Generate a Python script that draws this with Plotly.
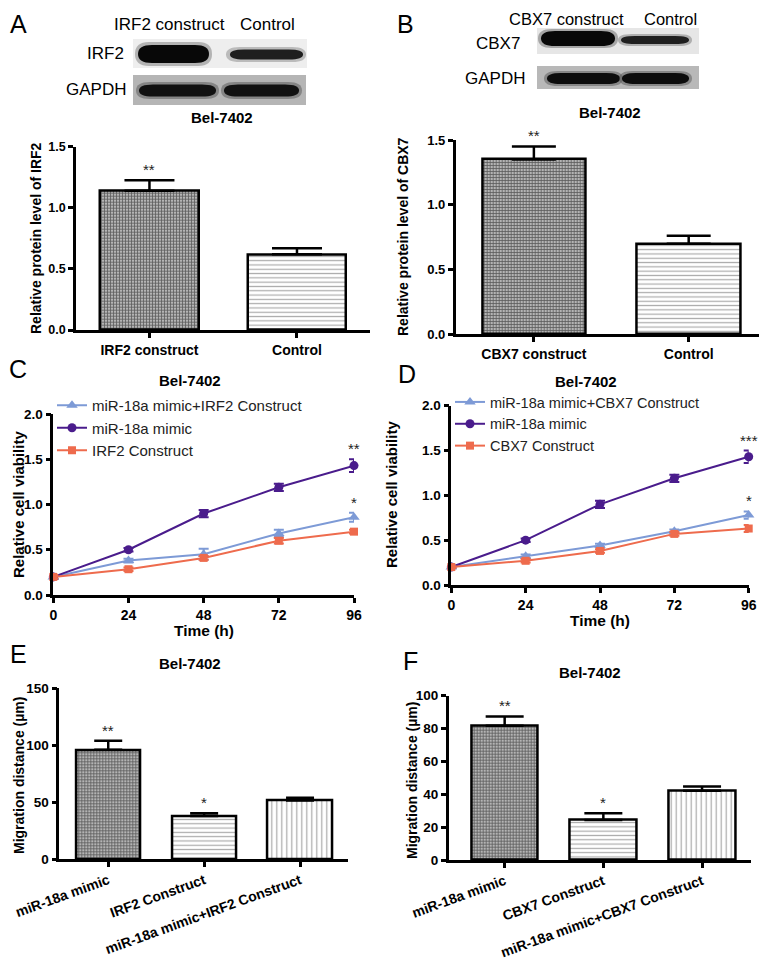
import plotly.graph_objects as go

REF_W, REF_H = 767, 961
OFF = 8                      # the page body adds an 8 px margin
W, H = REF_W - OFF, REF_H - OFF
FONT = "Liberation Sans, Arial, sans-serif"

# ---------------- data ----------------
a_cats = ["IRF2 construct", "Control"]
a_vals = [1.14, 0.62]
a_err = [0.085, 0.05]
a_sig = ["**", ""]

b_cats = ["CBX7 construct", "Control"]
b_vals = [1.35, 0.70]
b_err = [0.10, 0.06]
b_sig = ["**", ""]

time_h = [0, 24, 48, 72, 96]

c_names = ["miR-18a mimic+IRF2 Construct", "miR-18a mimic", "IRF2 Construct"]
c_combo = [0.20, 0.38, 0.45, 0.68, 0.86]
c_combo_err = [0.02, 0.02, 0.06, 0.04, 0.05]
c_mimic = [0.20, 0.50, 0.90, 1.19, 1.43]
c_mimic_err = [0.02, 0.02, 0.04, 0.04, 0.07]
c_construct = [0.20, 0.285, 0.41, 0.60, 0.70]
c_construct_err = [0.02, 0.02, 0.02, 0.03, 0.02]
c_sig_mimic = "**"
c_sig_combo = "*"

d_names = ["miR-18a mimic+CBX7 Construct", "miR-18a mimic", "CBX7 Construct"]
d_combo = [0.20, 0.32, 0.44, 0.60, 0.78]
d_combo_err = [0.01, 0.02, 0.02, 0.02, 0.04]
d_mimic = [0.20, 0.50, 0.90, 1.19, 1.43]
d_mimic_err = [0.01, 0.02, 0.04, 0.04, 0.07]
d_construct = [0.20, 0.27, 0.38, 0.57, 0.63]
d_construct_err = [0.01, 0.02, 0.02, 0.02, 0.04]
d_sig_mimic = "***"
d_sig_combo = "*"

e_cats = ["miR-18a mimic", "IRF2 Construct", "miR-18a mimic+IRF2 Construct"]
e_vals = [96, 38, 51.5]
e_err = [8, 2.3, 2.6]
e_sig = ["**", "*", ""]

f_cats = ["miR-18a mimic", "CBX7 Construct", "miR-18a mimic+CBX7 Construct"]
f_vals = [81.7, 24.4, 42.1]
f_err = [5.7, 4.1, 2.6]
f_sig = ["**", "*", ""]

BLUE = "#7d9ad6"
PURPLE = "#4a1c8c"
ORANGE = "#ee6b4d"


# ---------------- helpers (reference-pixel -> paper) ----------------
def px(x):
    return (x - OFF) / W


def py(y):
    return 1 - (y - OFF) / H


def dx(x0, x1):
    return [px(x0), px(x1)]


def dy(ytop, ybot):
    return [py(ybot), py(ytop)]


fig = go.Figure()

pat_check = dict(shape="+", size=3, solidity=0.45, fgcolor="#000000", bgcolor="#b4b4b4")
pat_h = dict(shape="-", size=4.3, solidity=0.28, fgcolor="#555555", bgcolor="#ffffff")
pat_v = dict(shape="|", size=5, solidity=0.25, fgcolor="#555555", bgcolor="#ffffff")


def add_bars(cats, vals, errs, pats, xa, ya, width, capw):
    for c, v, e, p in zip(cats, vals, errs, pats):
        fig.add_trace(go.Bar(
            x=[c], y=[v], width=[width], xaxis=xa, yaxis=ya, showlegend=False,
            marker=dict(color="white", pattern=p, line=dict(color="black", width=2.5)),
            error_y=dict(type="data", symmetric=False, array=[e], arrayminus=[0],
                         color="black", thickness=2.5, width=capw),
        ))


add_bars(a_cats, a_vals, a_err, [pat_check, pat_h], "x", "y", 0.67, 25)
add_bars(b_cats, b_vals, b_err, [pat_check, pat_h], "x2", "y2", 0.667, 22)
add_bars(e_cats, e_vals, e_err, [pat_check, pat_h, pat_v], "x5", "y5", 0.674, 14)
add_bars(f_cats, f_vals, f_err, [pat_check, pat_h, pat_v], "x6", "y6", 0.676, 19)


def add_lines(names, series, errs, xa, ya, legend):
    specs = [(BLUE, "triangle-up", 10), (PURPLE, "circle", 9), (ORANGE, "square", 8)]
    for name, s, e, (col, sym, sz) in zip(names, series, errs, specs):
        fig.add_trace(go.Scatter(
            x=time_h, y=s, name=name, mode="lines+markers", xaxis=xa, yaxis=ya, legend=legend,
            line=dict(color=col, width=2), marker=dict(color=col, symbol=sym, size=sz),
            error_y=dict(type="data", array=e, color=col, thickness=2, width=5),
            cliponaxis=False,
        ))


add_lines(c_names, [c_combo, c_mimic, c_construct], [c_combo_err, c_mimic_err, c_construct_err],
          "x3", "y3", "legend")
add_lines(d_names, [d_combo, d_mimic, d_construct], [d_combo_err, d_mimic_err, d_construct_err],
          "x4", "y4", "legend2")


# ---------------- axes ----------------
def ax(size, **kw):
    d = dict(showline=True, linecolor="black", linewidth=2.5, ticks="outside", ticklen=5,
             tickwidth=2.5, tickcolor="black", showgrid=False, zeroline=False, automargin=False,
             tickfont=dict(family=FONT, size=size, color="black", weight="bold"))
    d.update(kw)
    return d


fig.update_layout(
    xaxis=ax(14, domain=dx(76, 370), anchor="y", type="category", range=[-0.498, 1.495]),
    yaxis=ax(12.5, domain=dy(146.7, 330), anchor="x", range=[0, 1.5], dtick=0.5, tickformat=".1f"),
    xaxis2=ax(14, domain=dx(455.7, 763), anchor="y2", type="category", range=[-0.505, 1.48]),
    yaxis2=ax(13, domain=dy(140, 334.3), anchor="x2", range=[0, 1.5], dtick=0.5, tickformat=".1f"),
    xaxis3=ax(14, domain=dx(53.3, 354), anchor="y3", range=[0, 96], tickvals=time_h),
    yaxis3=ax(13.5, domain=dy(414, 595), anchor="x3", range=[0, 2], dtick=0.5, tickformat=".1f"),
    xaxis4=ax(14, domain=dx(451.3, 748.7), anchor="y4", range=[0, 96], tickvals=time_h),
    yaxis4=ax(13.5, domain=dy(405.7, 585), anchor="x4", range=[0, 2], dtick=0.5, tickformat=".1f"),
    xaxis5=ax(14, domain=dx(59.3, 348), anchor="y5", type="category", range=[-0.51, 2.5],
              tickangle=-20),
    yaxis5=ax(13.5, domain=dy(688.3, 859.3), anchor="x5", range=[0, 150], dtick=50),
    xaxis6=ax(14, domain=dx(448.7, 751), anchor="y6", type="category", range=[-0.567, 2.496],
              tickangle=-20),
    yaxis6=ax(13.5, domain=dy(695.7, 860), anchor="x6", range=[0, 100], dtick=20),
)

fig.update_layout(
    width=W, height=H, margin=dict(l=0, r=0, t=0, b=0, pad=0, autoexpand=False),
    paper_bgcolor="white", plot_bgcolor="white", bargap=0,
    font=dict(family=FONT, color="black"),
    legend=dict(x=px(52), y=py(389), xanchor="left", yanchor="top", bgcolor="rgba(0,0,0,0)",
                font=dict(family=FONT, size=15, color="#222"), tracegroupgap=0),
    legend2=dict(x=px(450), y=py(386), xanchor="left", yanchor="top", bgcolor="rgba(0,0,0,0)",
                 font=dict(family=FONT, size=14.5, color="#222"), tracegroupgap=0),
)

ann = []


def text(x, y, s, size=13, bold=True, angle=0, xanchor="center", yanchor="middle", color="black"):
    ann.append(dict(x=px(x), y=py(y), xref="paper", yref="paper", text=s, showarrow=False,
                    textangle=angle, xanchor=xanchor, yanchor=yanchor,
                    font=dict(family=FONT, size=size, color=color, weight="bold" if bold else "normal")))


# panel letters
text(18, 8, "A", size=25, bold=False, yanchor="top")
text(405, 8, "B", size=25, bold=False, yanchor="top")
for L, x, y in [("C", 18, 369), ("D", 407, 374), ("E", 18, 654), ("F", 410, 661)]:
    text(x, y, L, size=25, bold=False)

# titles
for x, y in [(222, 118), (610, 112), (190, 380), (586, 381), (190, 663), (590, 672)]:
    text(x, y, "Bel-7402", size=15)

# y-axis titles
text(36, 238, "Relative protein level of IRF2", size=14, angle=-90)
text(403, 237, "Relative protein level of CBX7", size=14, angle=-90)
text(18, 505, "Relative cell viability", size=15, angle=-90)
text(392, 495, "Relative cell viability", size=15, angle=-90)
text(19, 776, "Migration distance (µm)", size=14, angle=-90)
text(412, 780, "Migration distance (µm)", size=14, angle=-90)

# x titles
text(204, 630, "Time (h)", size=15.5)
text(600, 620, "Time (h)", size=15.5)

# blot labels
for s, x, y in [("IRF2 construct", 169, 24), ("Control", 267, 24), ("IRF2", 105, 53), ("GAPDH", 96, 90),
                ("CBX7", 498, 43), ("GAPDH", 495, 78)]:
    text(x, y, s, size=17, bold=False)
text(566, 8, "CBX7 construct", size=16.5, bold=False, yanchor="top")
text(670, 8, "Control", size=16.5, bold=False, yanchor="top")

fig.update_layout(annotations=ann)


# significance marks (data coordinates)
def sig_bar(cats, vals, errs, sigs, xa, ya):
    for c, v, e, s in zip(cats, vals, errs, sigs):
        if s:
            fig.add_annotation(x=c, y=v + e, xref=xa, yref=ya, text=s, showarrow=False,
                               yanchor="bottom", font=dict(family=FONT, size=15, color="#222"))


sig_bar(a_cats, a_vals, a_err, a_sig, "x", "y")
sig_bar(b_cats, b_vals, b_err, b_sig, "x2", "y2")
sig_bar(e_cats, e_vals, e_err, e_sig, "x5", "y5")
sig_bar(f_cats, f_vals, f_err, f_sig, "x6", "y6")

for s, v, e, xa, ya in [(c_sig_mimic, c_mimic[-1], c_mimic_err[-1], "x3", "y3"),
                        (c_sig_combo, c_combo[-1], c_combo_err[-1], "x3", "y3"),
                        (d_sig_mimic, d_mimic[-1], d_mimic_err[-1], "x4", "y4"),
                        (d_sig_combo, d_combo[-1], d_combo_err[-1], "x4", "y4")]:
    fig.add_annotation(x=time_h[-1], y=v + e, xref=xa, yref=ya, text=s, showarrow=False,
                       yanchor="bottom", font=dict(family=FONT, size=15, color="#222"))

# ---------------- western blot panels (drawn as shapes) ----------------
shapes = []


def rect(x0, y0, x1, y1, color):
    shapes.append(dict(type="rect", xref="paper", yref="paper", x0=px(x0), x1=px(x1),
                       y0=py(y1), y1=py(y0), fillcolor=color, line=dict(width=0), layer="below"))


def band(x0, y0, x1, y1, color, opacity=1.0):
    yc = (y0 + y1) / 2
    r = min((x1 - x0) * 0.25, 14)
    p = (f"M {px(x0)},{py(yc)} Q {px(x0)},{py(y0)} {px(x0 + r)},{py(y0)} "
         f"L {px(x1 - r)},{py(y0)} Q {px(x1)},{py(y0)} {px(x1)},{py(yc)} "
         f"Q {px(x1)},{py(y1)} {px(x1 - r)},{py(y1)} L {px(x0 + r)},{py(y1)} "
         f"Q {px(x0)},{py(y1)} {px(x0)},{py(yc)} Z")
    shapes.append(dict(type="path", xref="paper", yref="paper", path=p, fillcolor=color,
                       opacity=opacity, line=dict(width=0), layer="below"))


# A: IRF2
rect(133, 39, 307, 68, "#eeeeee")
band(135, 42, 212, 66, "#777777", 0.5)
band(138, 45, 209, 63, "#080808")
band(226, 47, 306, 62, "#888888", 0.5)
band(230, 49.5, 303, 59.5, "#1f1f1f")
# A: GAPDH
rect(133, 75, 306, 105, "#b5b5b5")
band(136, 82, 219, 99, "#555555", 0.5)
band(139, 84.5, 216, 96.5, "#111111")
band(221, 82, 302, 99, "#555555", 0.5)
band(224, 84.5, 299, 96.5, "#111111")

# B: CBX7
rect(537, 28, 699, 54, "#e6e6e6")
band(538, 29, 618, 48, "#666666", 0.5)
band(541, 31, 615, 46, "#080808")
band(618, 34, 692, 46, "#777777", 0.5)
band(621, 36, 689, 44, "#1f1f1f")
# B: GAPDH
rect(537, 66, 699, 89, "#b8b8b8")
band(544, 71, 623, 86, "#555555", 0.5)
band(547, 73, 620, 84, "#0d0d0d")
band(619, 71, 692, 86, "#555555", 0.5)
band(622, 73, 689, 84, "#0d0d0d")

fig.update_layout(shapes=shapes)

fig.write_html("out.html")
